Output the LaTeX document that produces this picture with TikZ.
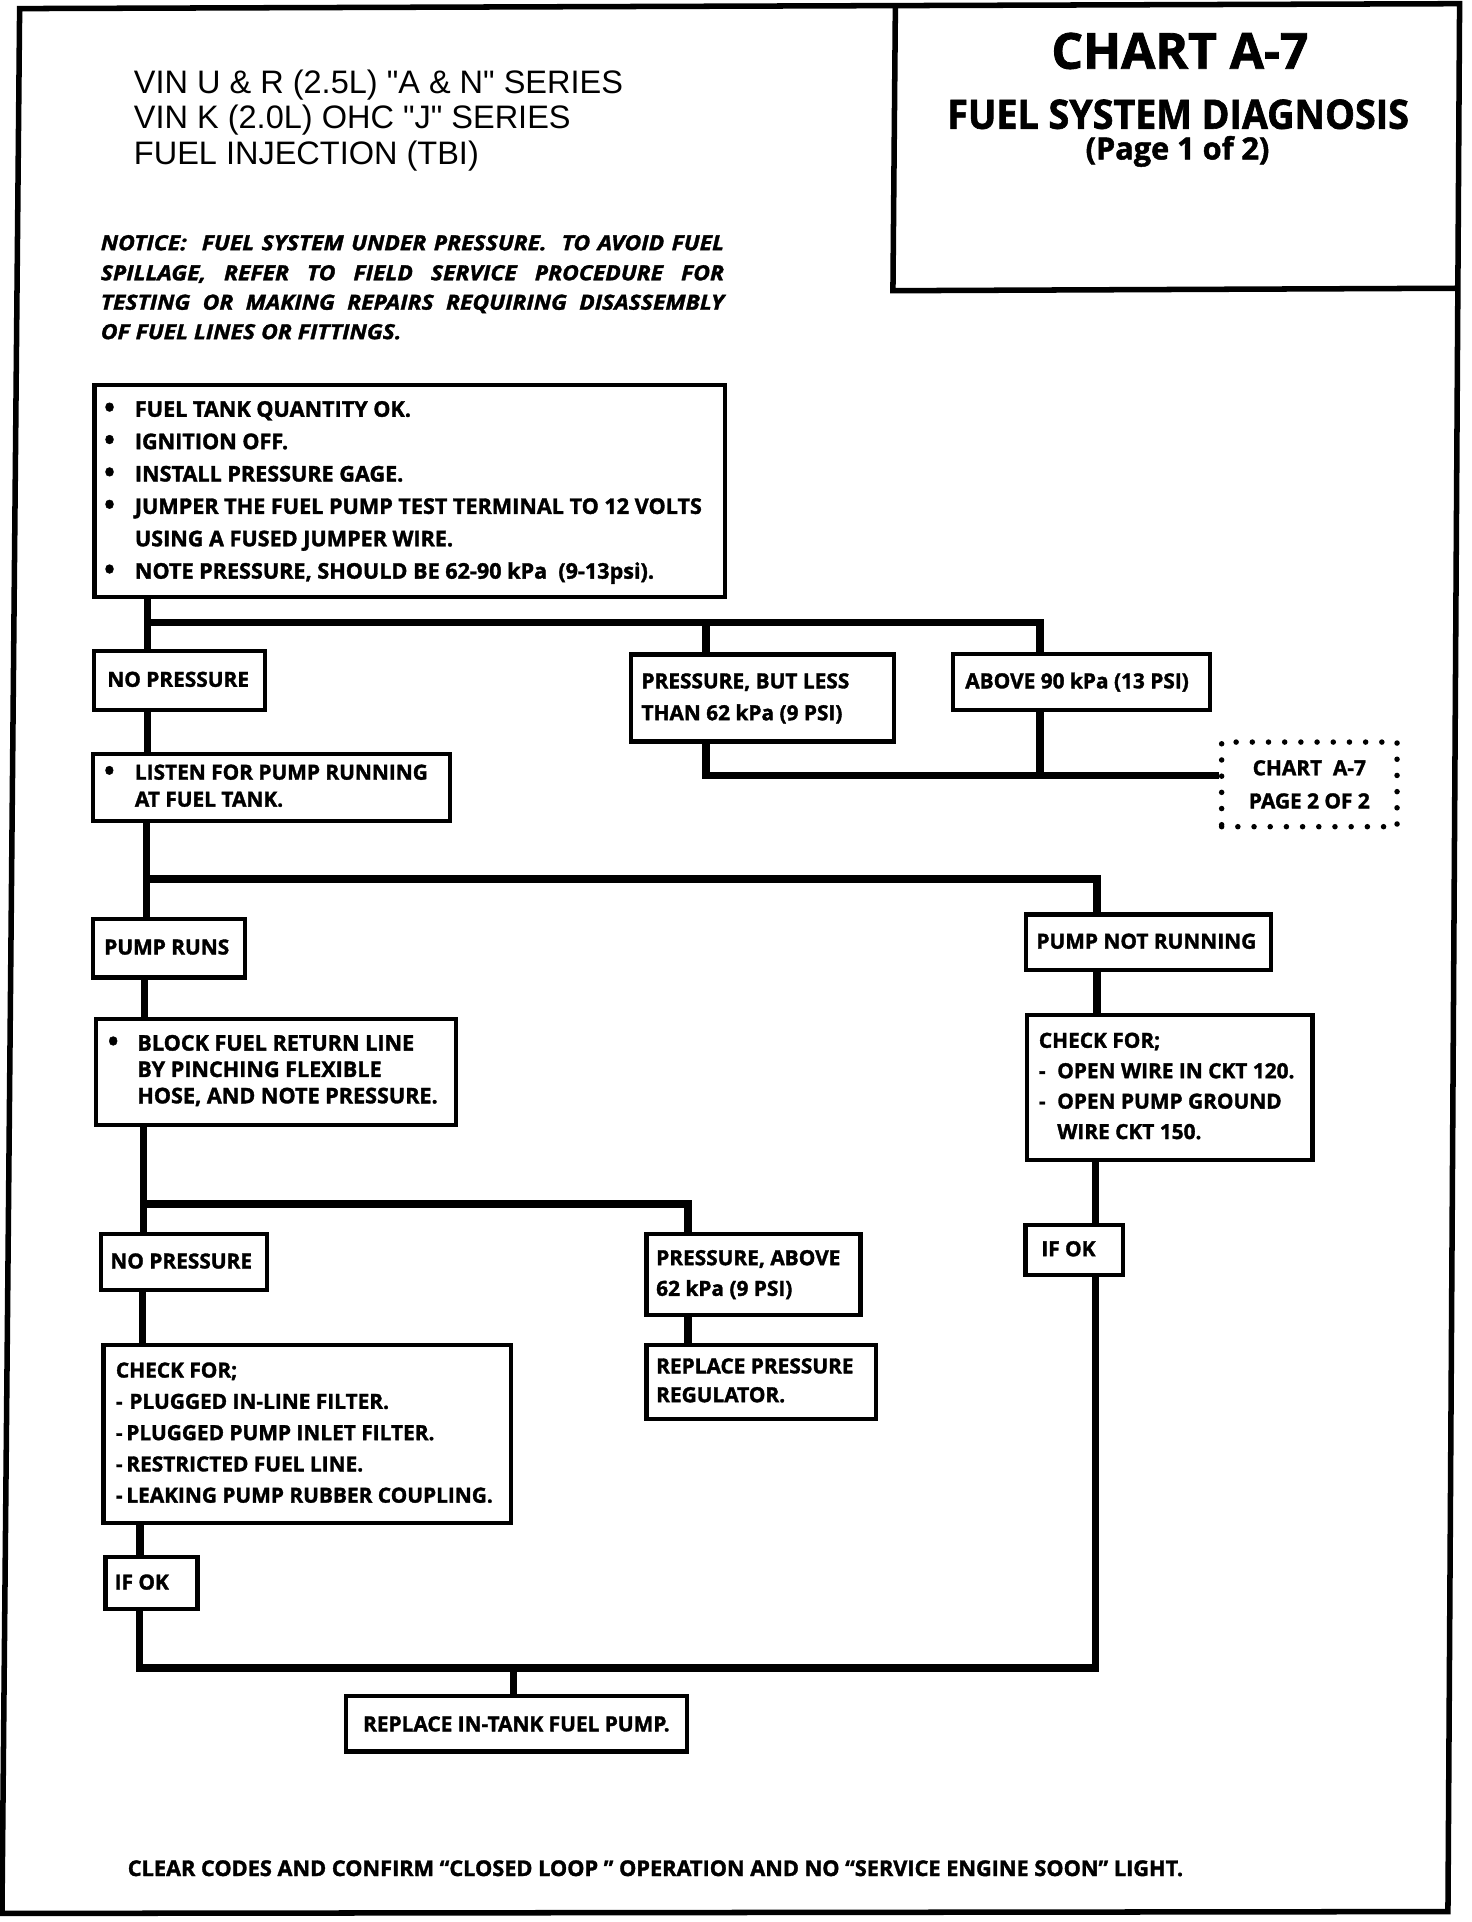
\documentclass[tikz,border=0pt]{standalone}
\usepackage{fontspec}
\setmainfont{Liberation Sans}
\newfontfamily\bxf{Open Sans}[BoldFeatures={FakeBold=1.6}]
\newfontfamily\ntf{Open Sans}[BoldItalicFeatures={FakeBold=1.6,FakeStretch=1.1}]
\usetikzlibrary{calc}
\newcommand{\boxtext}[3]{\makebox[#1pt][l]{\fontsize{17}{#2}\selectfont\begin{tabular}{@{}l@{}}#3\end{tabular}}}
\newcommand{\boxtextL}[3]{\makebox[#1pt][l]{\fontsize{17.6}{#2}\selectfont\begin{tabular}{@{}l@{}}#3\end{tabular}}}
\newcommand{\bul}{\makebox[25pt][l]{\raisebox{-0.5pt}{\scalebox{1.3}{\textbullet}}}}
\newcommand{\bulind}{\hspace*{25pt}}
\newcommand{\dsh}[1]{\makebox[#1pt][l]{-}}
\begin{document}
\begin{tikzpicture}[x=1pt,y=-1pt,
  frame/.style={line width=4.5pt, line join=miter},
  conn/.style={line width=6pt, line join=miter},
  box/.style={draw, line width=3.5pt, inner sep=0pt, font=\bxf\bfseries},
  dbox/.style={draw, line width=4.5pt, dash pattern=on 0pt off 13.2pt, line cap=round, inner sep=0pt, align=center, font=\bxf\bfseries\fontsize{17}{27}\selectfont},
  txt/.style={inner sep=0pt, anchor=base west},
  ttl/.style={inner sep=0pt, anchor=base, font=\bxf\bfseries},
]
\useasboundingbox (0,0) rectangle (1200,1567);
% frame and title box
\draw[frame] (16,7) -- (1190,3) -- (1180.5,1558.5) -- (1.6,1560) -- cycle;
\draw[frame] (730,5) -- (728,237) -- (1188.5,235);
\node[ttl, font=\bxf\bfseries\fontsize{40.5}{44}\selectfont] (t1) at (962,56) {CHART A-7};
\node[ttl, font=\bxf\bfseries\fontsize{33}{36}\selectfont] (t2) at (960.5,105) {\scalebox{0.93}[1]{FUEL SYSTEM DIAGNOSIS}};
\node[ttl, font=\bxf\bfseries\fontsize{25}{28}\selectfont] (t3) at (960,130) {(Page 1 of 2)};
% header
\node[txt, font=\fontsize{26.5}{29}\selectfont] (h1) at (109,76) {VIN U \& R (2.5L) \textquotedbl A \& N\textquotedbl\ SERIES};
\node[txt, font=\fontsize{26.5}{29}\selectfont] (h2) at (109,105) {VIN K (2.0L) OHC \textquotedbl J\textquotedbl\ SERIES};
\node[txt, font=\fontsize{26.5}{29}\selectfont] (h3) at (109,134) {FUEL INJECTION (TBI)};
% notice
\node[txt, font=\ntf\bfseries\itshape\fontsize{17}{20}\selectfont] (n1) at (82,204) {\makebox[508pt][s]{NOTICE:\ \ FUEL SYSTEM UNDER PRESSURE.\ \ TO AVOID FUEL}};
\node[txt, font=\ntf\bfseries\itshape\fontsize{17}{20}\selectfont] (n2) at (82,228.5) {\makebox[508pt][s]{SPILLAGE, REFER TO FIELD SERVICE PROCEDURE FOR}};
\node[txt, font=\ntf\bfseries\itshape\fontsize{17}{20}\selectfont] (n3) at (82,252.5) {\makebox[508pt][s]{TESTING OR MAKING REPAIRS REQUIRING DISASSEMBLY}};
\node[txt, font=\ntf\bfseries\itshape\fontsize{17}{20}\selectfont] (n4) at (82,276.5) {OF FUEL LINES OR FITTINGS.};
% boxes
\node[box, minimum width=514pt, minimum height=173pt] (steps) at (334,400.5) {\boxtextL{498}{26.4}{%
\bul FUEL TANK QUANTITY OK.\\
\bul IGNITION OFF.\\
\bul INSTALL PRESSURE GAGE.\\
\bul JUMPER THE FUEL PUMP TEST TERMINAL TO 12 VOLTS\\
\bulind USING A FUSED JUMPER WIRE.\\
\bul NOTE PRESSURE, SHOULD BE 62-90 kPa\ \ (9-13psi).}};
\node[box, minimum width=139.5pt, minimum height=48.5pt] (np1) at (146.25,554.75) {\boxtext{117.5}{26}{NO PRESSURE}};
\node[box, minimum width=291pt, minimum height=54.5pt] (listen) at (221.5,642.25) {\boxtext{273}{22}{%
\bul LISTEN FOR PUMP RUNNING\\
\bulind AT FUEL TANK.}};
\node[box, minimum width=214.5pt, minimum height=71pt] (plt) at (621.75,569) {\boxtext{197.5}{26}{%
PRESSURE, BUT LESS\\
THAN 62 kPa (9 PSI)}};
\node[box, minimum width=209.5pt, minimum height=46pt] (above) at (881.75,556) {\boxtext{189.5}{26}{ABOVE 90 kPa (13 PSI)}};
\node[dbox, minimum width=143pt, minimum height=69pt] (pg2) at (1067.5,639.5) {CHART\ \ A-7\\PAGE 2 OF 2};
\node[box, minimum width=123.5pt, minimum height=48pt] (pr) at (137.75,773) {\boxtext{105.5}{26}{PUMP RUNS}};
\node[box, minimum width=293.5pt, minimum height=86.5pt] (block) at (224.75,873.75) {\boxtextL{273.5}{21.5}{%
\makebox[24pt][l]{\raisebox{-0.5pt}{\scalebox{1.3}{\textbullet}}}BLOCK FUEL RETURN LINE\\
\hspace*{24pt}BY PINCHING FLEXIBLE\\
\hspace*{24pt}HOSE, AND NOTE PRESSURE.}};
\node[box, minimum width=135pt, minimum height=46pt] (np2) at (150,1029) {\boxtext{120}{26}{NO PRESSURE}};
\node[box, minimum width=332pt, minimum height=145pt] (chkL) at (250.5,1169) {\boxtext{312}{25.5}{%
CHECK FOR;\\
\dsh{11}PLUGGED IN-LINE FILTER.\\
\dsh{8.5}PLUGGED PUMP INLET FILTER.\\
\dsh{8.5}RESTRICTED FUEL LINE.\\
\dsh{8.5}LEAKING PUMP RUBBER COUPLING.}};
\node[box, minimum width=75pt, minimum height=42.5pt] (ifokL) at (123.5,1290.75) {\boxtext{60}{26}{IF OK}};
\node[box, minimum width=199.5pt, minimum height=45.5pt] (pnr) at (936.25,768.25) {\boxtext{182.5}{26}{PUMP NOT RUNNING}};
\node[box, minimum width=232.5pt, minimum height=118pt] (chkR) at (953.75,886.5) {\boxtext{213.5}{24.8}{%
CHECK FOR;\\
\dsh{15}OPEN WIRE IN CKT 120.\\
\dsh{15}OPEN PUMP GROUND\\
\hspace*{15pt}WIRE CKT 150.}};
\node[box, minimum width=79.5pt, minimum height=41pt] (ifokR) at (875.75,1019) {\boxtext{53.5}{26}{IF OK}};
\node[box, minimum width=174.5pt, minimum height=66pt] (pa) at (614.25,1039) {\boxtext{158.5}{25}{%
PRESSURE, ABOVE\\
62 kPa (9 PSI)}};
\node[box, minimum width=187pt, minimum height=60.5pt] (rpr) at (620.5,1126.75) {\boxtext{171}{23.5}{%
REPLACE PRESSURE\\
REGULATOR.}};
\node[box, minimum width=278pt, minimum height=45pt, font=\bxf\bfseries\fontsize{17}{26}\selectfont] (rtp) at (421,1405.5) {REPLACE IN-TANK FUEL PUMP.};
% footer
\node[txt, font=\bxf\bfseries\fontsize{17.7}{20}\selectfont] (foot) at (104,1529.5) {CLEAR CODES AND CONFIRM “CLOSED LOOP ” OPERATION AND NO “SERVICE ENGINE SOON” LIGHT.};
% connectors
\coordinate (j1) at (120,507.5);
\coordinate (j1b) at (575.5,507.5);
\coordinate (j1c) at (848,507.5);
\draw[conn] (steps.south -| j1) -- (np1.north -| j1);
\draw[conn] (j1) -- (j1c) -- (j1c |- above.north);
\draw[conn] (j1b) -- (j1b |- plt.north);
\coordinate (j2) at (575.5,632);
\coordinate (j2b) at (848,632);
\draw[conn] (plt.south -| j2) -- (j2) -- (j2 -| pg2.west);
\draw[conn] (above.south -| j2b) -- (j2b);
\draw[conn] (np1.south -| j1) -- (listen.north -| j1);
\coordinate (j3) at (119.5,716.5);
\coordinate (j3c) at (894.5,716.5);
\draw[conn] (listen.south -| j3) -- (pr.north -| j3);
\draw[conn] (j3) -- (j3c) -- (j3c |- pnr.north);
\coordinate (k4) at (118,0);
\draw[conn] (pr.south -| k4) -- (block.north -| k4);
\coordinate (j5) at (117,981.5);
\coordinate (j5c) at (561,981.5);
\draw[conn] (block.south -| j5) -- (np2.north -| j5);
\draw[conn] (j5) -- (j5c) -- (j5c |- pa.north);
\draw[conn] (pa.south -| j5c) -- (rpr.north -| j5c);
\coordinate (k6) at (116,0);
\draw[conn] (np2.south -| k6) -- (chkL.north -| k6);
\coordinate (k7) at (114,0);
\draw[conn] (chkL.south -| k7) -- (ifokL.north -| k7);
\coordinate (j8) at (113.5,1360);
\coordinate (j8c) at (893,1360);
\coordinate (j8m) at (418.5,1360);
\draw[conn] (ifokL.south -| j8) -- (j8) -- (j8c) -- (j8c |- ifokR.south);
\draw[conn] (j8m) -- (j8m |- rtp.north);
\coordinate (k9) at (894.5,0);
\draw[conn] (pnr.south -| k9) -- (chkR.north -| k9);
\coordinate (k10) at (893,0);
\draw[conn] (chkR.south -| k10) -- (ifokR.north -| k10);
\end{tikzpicture}
\end{document}
